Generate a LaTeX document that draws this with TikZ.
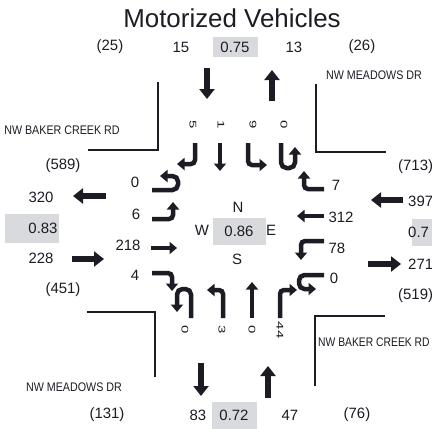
\documentclass[tikz,border=0pt]{standalone}
\usepackage{fontspec}
\setmainfont{Liberation Sans}
\usetikzlibrary{arrows.meta}
\definecolor{boxgray}{HTML}{D9DADD}
\definecolor{ink}{HTML}{1C1C24}
\newcommand\rnum[1]{\scalebox{1}[0.65]{#1}}
\newcommand\roadtxt[1]{\scalebox{0.86}[1]{#1}}
\begin{document}
\begin{tikzpicture}[x=1bp,y=-1bp,
  big/.style={line width=6.5bp,-{Triangle[length=10bp,width=15bp]},draw=ink},
  mv/.style={line width=4.5bp,-{Triangle[length=7.5bp,width=12bp]},draw=ink,rounded corners=4bp},
  mvu/.style={mv,rounded corners=5.5bp},
  num/.style={font=\fontsize{15}{17}\selectfont,text=ink,inner sep=0pt},
  rn/.style={num,rotate=-90},
  roadlbl/.style={font=\fontsize{12.5}{14}\selectfont,text=ink,inner sep=0pt},
  corner/.style={line width=1.5bp,draw=ink},
  gbox/.style={fill=boxgray,draw=none}]
\useasboundingbox (0,0) rectangle (432,429);
\fill[white] (0,0) rectangle (432,429);

% gray boxes
\fill[gbox] (213,37) rectangle (258,57);
\fill[gbox] (212,402) rectangle (257,429);
\fill[gbox] (5,214) rectangle (59,243);
\fill[gbox] (412,219) rectangle (433,246);
\fill[gbox] (213,218) rectangle (266,245);

% title
\node[font=\fontsize{26}{28}\selectfont,text=ink,inner sep=0pt] (title) at (232,18) {Motorized Vehicles};

% top row
\node[num] (t25) at (110,47) {(25)};
\node[num] (t15) at (181,47) {15};
\node[num] (t075) at (235,47) {0.75};
\node[num] (t13) at (294,47) {13};
\node[num] (t26) at (362,47) {(26)};

% bottom row
\node[num] (b131) at (107,415) {(131)};
\node[num] (b83) at (198,415) {83};
\node[num] (b072) at (234,415) {0.72};
\node[num] (b47) at (290,415) {47};
\node[num] (b76) at (357,415) {(76)};

% left column
\node[num] (l589) at (63,166) {(589)};
\node[num] (l320) at (41,197) {320};
\node[num] (l083) at (43,228) {0.83};
\node[num] (l228) at (41,258) {228};
\node[num] (l451) at (63,290) {(451)};

% right column
\node[num,anchor=west] (r713) at (398,167) {(713)};
\node[num,anchor=west] (r397) at (408,201) {397};
\node[num,anchor=west] (r07) at (408,232) {0.7};
\node[num,anchor=west] (r271) at (408,264) {271};
\node[num,anchor=west] (r519) at (398,296) {(519)};

% road labels
\node[roadlbl] (rdtl) at (62,130) {\roadtxt{NW BAKER CREEK RD}};
\node[roadlbl] (rdtr) at (374,75) {\roadtxt{NW MEADOWS DR}};
\node[roadlbl] (rdbl) at (74,387) {\roadtxt{NW MEADOWS DR}};
\node[roadlbl,anchor=west] (rdbr) at (318,342) {\scalebox{0.83}[1]{NW BAKER CREEK RD}};

% corner curbs
\draw[corner] (158,82) -- (158,150) -- (88,150);
\draw[corner] (316,84) -- (316,152) -- (386,152);
\draw[corner] (87,312) -- (155,312) -- (155,377);
\draw[corner] (315,386) -- (315,316) -- (385,316);

% big in/out arrows
\draw[big] (207,68) -- (207,99);
\draw[big] (272,101) -- (272,70);
\draw[big] (201,363) -- (201,396);
\draw[big] (268,398) -- (268,366);
\draw[big] (106,196) -- (73,196);
\draw[big] (72,259) -- (104,259);
\draw[big] (403,200) -- (371,200);
\draw[big] (368,264) -- (401,264);

% center
\node[num] (cN) at (238,207) {N};
\node[num] (cW) at (202,230) {W};
\node[num] (c086) at (239,231) {0.86};
\node[num] (cE) at (271,230) {E};
\node[num] (cS) at (237,259) {S};

% southbound (top)
\node[rn] (sR) at (193,125) {\rnum{5}};
\node[rn] (sT) at (221,125) {\rnum{1}};
\node[rn] (sL) at (253,125) {\rnum{9}};
\node[rn] (sU) at (284,125) {\rnum{0}};
\draw[mv] (195,143) -- (195,164) -- (177,164);
\draw[mv] (220,143) -- (220,171);
\draw[mv] (248,143) -- (248,165) -- (267,165);
\draw[mvu] (281,143) -- (281,168) -- (295,168) -- (295,147);

% northbound (bottom)
\node[rn] (nU) at (185,330) {\rnum{0}};
\node[rn] (nL) at (222,330) {\rnum{3}};
\node[rn] (nT) at (252,330) {\rnum{0}};
\node[rn] (nR) at (280,330) {\rnum{44}};
\draw[mvu] (191,318) -- (191,289) -- (177,289) -- (177,312);
\draw[mv] (223,318) -- (223,290) -- (207,290);
\draw[mv] (252,318) -- (252,282);
\draw[mv] (280,318) -- (280,290) -- (297,290);

% eastbound (left)
\node[num] (eU) at (135,182) {0};
\node[num] (eL) at (136,214) {6};
\node[num] (eT) at (128,245) {218};
\node[num] (eR) at (135,275) {4};
\draw[mvu] (152,190) -- (178,190) -- (178,176) -- (160,176);
\draw[mv] (152,219) -- (173,219) -- (173,202);
\draw[mv] (151,248) -- (177,248);
\draw[mv] (152,273) -- (172,273) -- (172,291);

% westbound (right)
\node[num] (wR) at (336,185) {7};
\node[num] (wT) at (341,217) {312};
\node[num] (wL) at (337,248) {78};
\node[num] (wU) at (334,278) {0};
\draw[mv] (324,189) -- (304,189) -- (304,171);
\draw[mv] (324,216) -- (297,216);
\draw[mv] (324,241) -- (301,241) -- (301,260);
\draw[mvu] (324,275) -- (299,275) -- (299,289) -- (316,289);
\end{tikzpicture}
\end{document}
